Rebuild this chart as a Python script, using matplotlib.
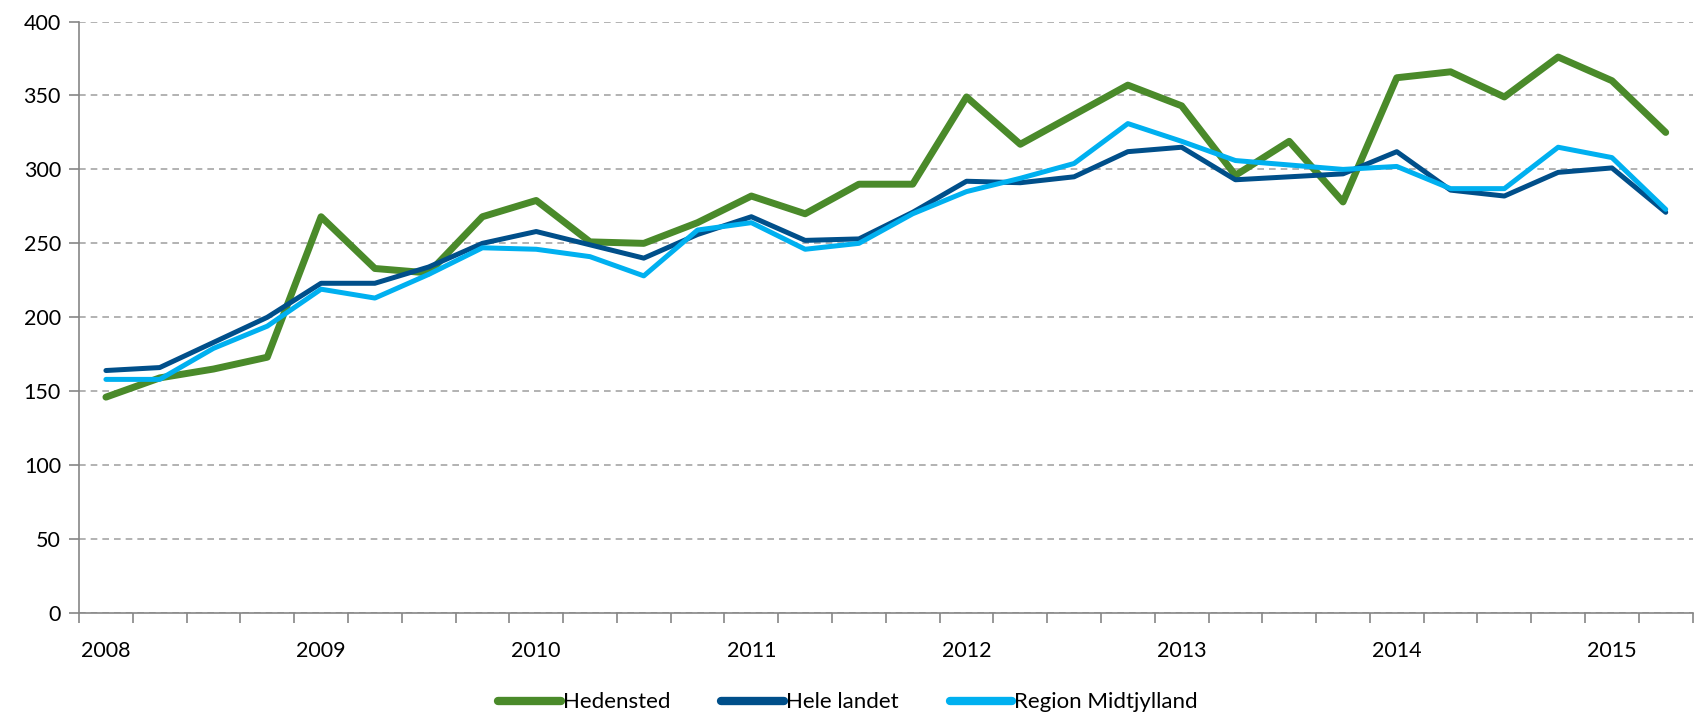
import numpy as np
import matplotlib
matplotlib.use("Agg")
import matplotlib.pyplot as plt

plt.rcParams['font.family'] = ['Lato', 'DejaVu Sans']

years = ["2008", "2009", "2010", "2011", "2012", "2013", "2014", "2015"]

# quarterly values, 2008 Q1 - 2015 Q2
hedensted = [146, 159, 165, 173, 268, 233, 230, 268, 279, 251,
             250, 264, 282, 270, 290, 290, 349, 317, 337, 357,
             343, 296, 319, 278, 362, 366, 349, 376, 360, 325]
hele_landet = [164, 166, 183, 200, 223, 223, 234, 250, 258, 249,
               240, 256, 268, 252, 253, 271, 292, 291, 295, 312,
               315, 293, 295, 297, 312, 286, 282, 298, 301, 271]
region_midt = [158, 158, 179, 194, 219, 213, 229, 247, 246, 241,
               228, 259, 264, 246, 250, 270, 285, 294, 304, 331,
               319, 306, 303, 300, 302, 287, 287, 315, 308, 273]

x = np.arange(len(hedensted))

fig = plt.figure(figsize=(16.96, 7.18), dpi=100)
ax = fig.add_axes([0.0466, 0.1462, 0.9514, 0.8238])

ax.plot(x, hedensted, color="#4A8A2A", lw=5, solid_capstyle="round",
        solid_joinstyle="round", label="Hedensted", zorder=3)
ax.plot(x, hele_landet, color="#004F8A", lw=3.6, solid_capstyle="round",
        solid_joinstyle="round", label="Hele landet", zorder=4)
ax.plot(x, region_midt, color="#00B0F0", lw=3.6, solid_capstyle="round",
        solid_joinstyle="round", label="Region Midtjylland", zorder=5)

ax.set_xlim(-0.5, len(x) - 0.5)
ax.set_ylim(0, 400)
ax.set_yticks(np.arange(0, 401, 50))
ax.yaxis.grid(True, color="#A6A6A6", linestyle=(0, (4, 3)), lw=1.2)
ax.set_axisbelow(True)

# boundaries between quarters as tick marks, year labels on first quarter
ax.set_xticks(np.arange(-0.5, len(x), 1.0))
ax.set_xticklabels([])
ax.set_xticks(np.arange(0, len(x), 4), minor=True)
ax.set_xticklabels(years, minor=True)
ax.tick_params(axis="x", which="major", length=7, width=1.2, color="#868686")
ax.tick_params(axis="x", which="minor", length=0, pad=20, labelsize=15.5)
ax.tick_params(axis="y", length=7, width=1.2, color="#868686", labelsize=15.5, pad=6)

for s in ["top", "right"]:
    ax.spines[s].set_visible(False)
for s in ["left", "bottom"]:
    ax.spines[s].set_color("#868686")
    ax.spines[s].set_linewidth(1.2)

leg = fig.legend(loc="lower center", bbox_to_anchor=(0.5, -0.02), ncol=3,
                 frameon=False, fontsize=16, handlelength=2.8, handletextpad=0.1,
                 columnspacing=2.3)
for h in leg.get_lines():
    h.set_linewidth(6)
    h.set_solid_capstyle("round")

fig.savefig("out.png", dpi=100)
